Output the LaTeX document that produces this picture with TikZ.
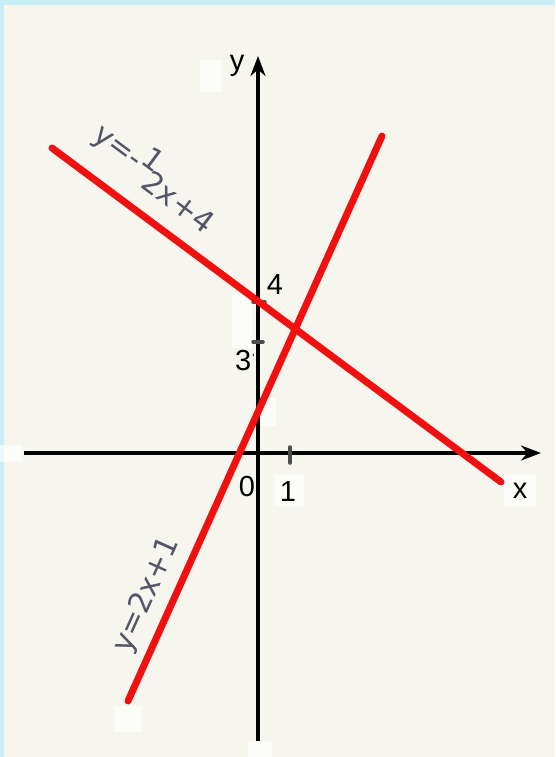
\documentclass[tikz,border=0pt]{standalone}
\usepackage{fontspec}
\setmainfont{Liberation Sans}
\newfontfamily\handfont{DejaVu Sans}
\usetikzlibrary{arrows.meta}
\definecolor{paper}{HTML}{F6F6EF}
\definecolor{frame}{HTML}{C9EEF6}
\definecolor{pen}{HTML}{55556A}
\definecolor{redline}{HTML}{F01010}
\tikzset{
  axis/.style={line width=3.2pt, black, -{Stealth[length=20pt,width=15pt]}},
  graph/.style={line width=7pt, redline, line cap=round},
  tickmark/.style={line width=3.5pt, black!70, line cap=round},
  numlabel/.style={font=\fontsize{29}{29}\selectfont, inner sep=0pt},
  handlabel/.style={font=\handfont\fontsize{30}{30}\selectfont, text=pen, inner sep=0pt},
  erase/.style={fill=white, draw=none, opacity=0.6}
}
\begin{document}
\begin{tikzpicture}[x=1pt,y=-1pt]
\useasboundingbox (0,0) rectangle (555,757);
\fill[frame] (0,0) rectangle (555,757);
\fill[paper] (4,5) rectangle (555,757);
% erased patches
\fill[erase] (232,292) rectangle (252,348);
\fill[erase] (260,398) rectangle (276,426);
\fill[erase] (248,742) rectangle (272,757);
\fill[erase] (114,706) rectangle (142,732);
\fill[erase] (504,474) rectangle (536,506);
\fill[erase] (274,474) rectangle (304,506);
\fill[erase] (0,445) rectangle (22,462);
\fill[erase] (200,60) rectangle (222,92);
% coordinates
\coordinate (xs) at (24,453);
\coordinate (xe) at (541,453);
\coordinate (ys) at (258,741);
\coordinate (ye) at (258,56);
\coordinate (a1) at (52,148);
\coordinate (a2) at (501,482);
\coordinate (b1) at (128,701);
\coordinate (b2) at (382,136);
% axes
\draw[axis] (xs) -- (xe);
\draw[axis] (ys) -- (ye);
% ticks
\coordinate (t4l) at (253,302); \coordinate (t4r) at (265,302);
\coordinate (t3l) at (253,342); \coordinate (t3r) at (263,342);
\coordinate (t1t) at (290,447); \coordinate (t1b) at (290,463);
\draw[tickmark] (t4l) -- (t4r);
\draw[tickmark] (t3l) -- (t3r);
\draw[tickmark] (t1t) -- (t1b);
% graphs
\draw[graph] (a1) -- (a2);
\draw[graph] (b1) -- (b2);
% labels
\node[numlabel] (ly) at (237,66) {y};
\node[numlabel] (lx) at (520,491) {x};
\node[numlabel] (l4) at (275,285) {4};
\node[numlabel] (l3) at (245,361) {3\kern1pt\raisebox{8pt}{\fontsize{12}{12}\selectfont'}};
\node[numlabel] (l0) at (247,487) {0};
\node[numlabel] (l1) at (288,492) {1};
\node[handlabel, rotate=-36.6] (f1) at (157,174) {y=-\raisebox{9pt}{1}\kern-5pt\raisebox{-10pt}{2x+4}};
\node[handlabel, rotate=65.9] (f2) at (147,595) {y=2x+1};
\end{tikzpicture}
\end{document}
